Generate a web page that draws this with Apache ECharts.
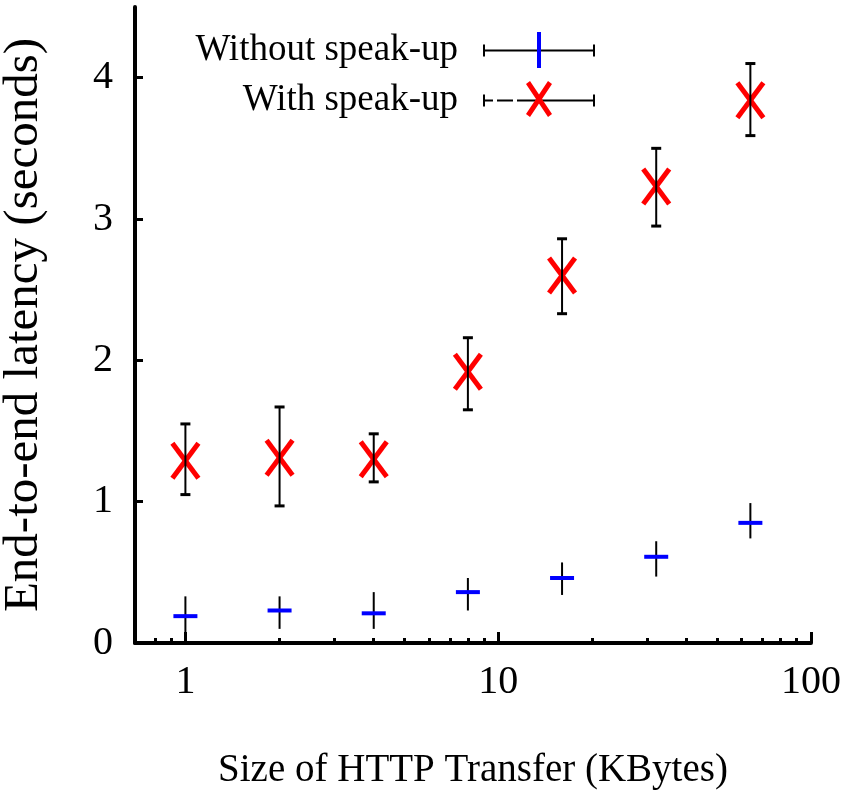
<!DOCTYPE html>
<html>
<head>
<meta charset="utf-8">
<script src="https://cdn.jsdelivr.net/npm/echarts@6/dist/echarts.min.js"></script>
<style>
html,body{margin:0;padding:0;background:#fff;}
#chart{width:846px;height:798px;}
</style>
</head>
<body>
<div id="chart"></div>
<script>
// ---- data ----
var sizes = [1, 2, 4, 8, 16, 32, 64];
var withoutMean = [0.19, 0.23, 0.21, 0.36, 0.46, 0.61, 0.85];
var withoutLow  = [0.05, 0.10, 0.10, 0.23, 0.34, 0.47, 0.74];
var withoutHigh = [0.33, 0.33, 0.36, 0.46, 0.57, 0.72, 0.99];
var withMean = [1.29, 1.31, 1.30, 1.92, 2.60, 3.23, 3.84];
var withLow  = [1.05, 0.97, 1.14, 1.65, 2.33, 2.95, 3.59];
var withHigh = [1.55, 1.67, 1.48, 2.16, 2.86, 3.50, 4.10];
var seriesNames = ['Without speak-up', 'With speak-up'];
var xMajorTicks = [1, 10, 100];
var xMinorTicks = [0.8, 0.9, 2, 3, 4, 5, 6, 7, 8, 9, 20, 30, 40, 50, 60, 70, 80, 90];
var yTicks = [0, 1, 2, 3, 4];

var FONT = "'Liberation Serif','Times New Roman',serif";
var BLUE = '#0000ff', RED = '#ff0000';

function build(mean, low, high) {
  return sizes.map(function (s, i) { return [s, mean[i], low[i], high[i]]; });
}

function renderErr(kind) {
  return function (params, api) {
    var x = api.value(0), y = api.value(1), lo = api.value(2), hi = api.value(3);
    var c = api.coord([x, y]);
    var pLo = api.coord([x, lo]);
    var pHi = api.coord([x, hi]);
    var children = [];
    var black = {stroke: '#000', lineWidth: 2};
    if (kind === 'x') {
      var hw = 13, hh = 17.5;
      children.push({type: 'line', shape: {x1: c[0]-hw, y1: c[1]-hh, x2: c[0]+hw, y2: c[1]+hh}, style: {stroke: RED, lineWidth: 5}});
      children.push({type: 'line', shape: {x1: c[0]+hw, y1: c[1]-hh, x2: c[0]-hw, y2: c[1]+hh}, style: {stroke: RED, lineWidth: 5}});
    }
    children.push({type: 'line', shape: {x1: pLo[0], y1: pLo[1], x2: pHi[0], y2: pHi[1]}, style: black});
    if (kind === 'x') {
      children.push({type: 'line', shape: {x1: pLo[0]-5, y1: pLo[1], x2: pLo[0]+5, y2: pLo[1]}, style: {stroke: '#000', lineWidth: 3}});
      children.push({type: 'line', shape: {x1: pHi[0]-5, y1: pHi[1], x2: pHi[0]+5, y2: pHi[1]}, style: {stroke: '#000', lineWidth: 3}});
    } else {
      children.push({type: 'line', shape: {x1: c[0]-12, y1: c[1], x2: c[0]+12, y2: c[1]}, style: {stroke: BLUE, lineWidth: 4}});
    }
    return {type: 'group', children: children};
  };
}

// legend sample icons (filled paths)
var dot = ' M0 0 L0.01 0 L0.01 0.01 Z M132 36 L131.99 36 L131.99 35.99 Z';
var sampleSolid = 'path://M20 17 L132 17 L132 19 L20 19 Z M20 12 L22 12 L22 24 L20 24 Z M130 12 L132 12 L132 24 L130 24 Z' + dot;
var sampleDashed = 'path://M20 17 L30 17 L30 19 L20 19 Z M34 17 L50 17 L50 19 L34 19 Z M54 17 L132 17 L132 19 L54 19 Z M20 12 L22 12 L22 24 L20 24 Z M130 12 L132 12 L132 24 L130 24 Z' + dot;
var markBar = 'path://M11 0 L15 0 L15 36 L11 36 Z M0 0 L0.01 0 L0.01 0.01 Z M26 36 L25.99 36 L25.99 35.99 Z';
var markX = 'path://M0 3 L4 0 L26 33 L22 36 Z M22 0 L26 3 L4 36 L0 33 Z';

var chart = echarts.init(document.getElementById('chart'));
var xAxisBase = {
  type: 'log', logBase: 10, min: 0.69, max: 100, position: 'bottom',
  splitLine: {show: false}, minorTick: {show: false}, minorSplitLine: {show: false}
};
chart.setOption({
  animation: false,
  backgroundColor: '#fff',
  grid: {left: 135, right: 35, top: 7, bottom: 155, containLabel: false, outerBoundsMode: 'none'},
  xAxis: [
    Object.assign({}, xAxisBase, {
      name: 'Size of HTTP Transfer (KBytes)', nameLocation: 'middle', nameGap: 108,
      nameTextStyle: {fontFamily: FONT, fontSize: 39, color: '#000'},
      axisLine: {show: true, lineStyle: {color: '#000', width: 4}},
      axisTick: {show: true, inside: true, length: 11, lineStyle: {color: '#000', width: 3}, customValues: xMajorTicks},
      axisLabel: {show: true, fontFamily: FONT, fontSize: 40, color: '#000', margin: 19, customValues: xMajorTicks,
        formatter: function (v) { return String(Math.round(v)); }}
    }),
    Object.assign({}, xAxisBase, {
      axisLine: {show: false},
      axisTick: {show: true, inside: true, length: 5, lineStyle: {color: '#000', width: 3}, customValues: xMinorTicks},
      axisLabel: {show: false}
    })
  ],
  yAxis: {
    type: 'value', min: 0, max: 4.5,
    name: 'End-to-end latency (seconds)', nameLocation: 'middle', nameGap: 86,
    nameTextStyle: {fontFamily: FONT, fontSize: 49, color: '#000'},
    splitLine: {show: false},
    axisLine: {show: true, lineStyle: {color: '#000', width: 4}},
    axisTick: {show: true, inside: true, length: 8, lineStyle: {color: '#000', width: 3}, customValues: yTicks},
    axisLabel: {show: true, fontFamily: FONT, fontSize: 40, color: '#000', margin: 22, customValues: yTicks}
  },
  legend: [
    {
      orient: 'vertical', align: 'right', right: 251, top: 32, padding: 0,
      itemWidth: 132, itemHeight: 36, itemGap: 13, selectedMode: false,
      textStyle: {fontFamily: FONT, fontSize: 37, color: '#000'},
      data: [
        {name: seriesNames[0], icon: sampleSolid, itemStyle: {color: '#000', borderWidth: 0}},
        {name: seriesNames[1], icon: sampleDashed, itemStyle: {color: '#000', borderWidth: 0}}
      ]
    },
    {
      orient: 'vertical', align: 'right', right: 294, top: 32, padding: 0, z: 10,
      itemWidth: 26, itemHeight: 36, itemGap: 13, selectedMode: false,
      formatter: function () { return ''; },
      textStyle: {fontSize: 37},
      data: [
        {name: seriesNames[0], icon: markBar, itemStyle: {color: BLUE, borderWidth: 0}},
        {name: seriesNames[1], icon: markX, itemStyle: {color: RED, borderWidth: 0}}
      ]
    }
  ],
  series: [
    {name: seriesNames[0], type: 'custom', xAxisIndex: 0, data: build(withoutMean, withoutLow, withoutHigh),
     encode: {x: 0, y: [1, 2, 3]}, renderItem: renderErr('plus'), itemStyle: {color: BLUE}},
    {name: seriesNames[1], type: 'custom', xAxisIndex: 0, data: build(withMean, withLow, withHigh),
     encode: {x: 0, y: [1, 2, 3]}, renderItem: renderErr('x'), itemStyle: {color: RED}}
  ]
});
</script>
</body>
</html>
